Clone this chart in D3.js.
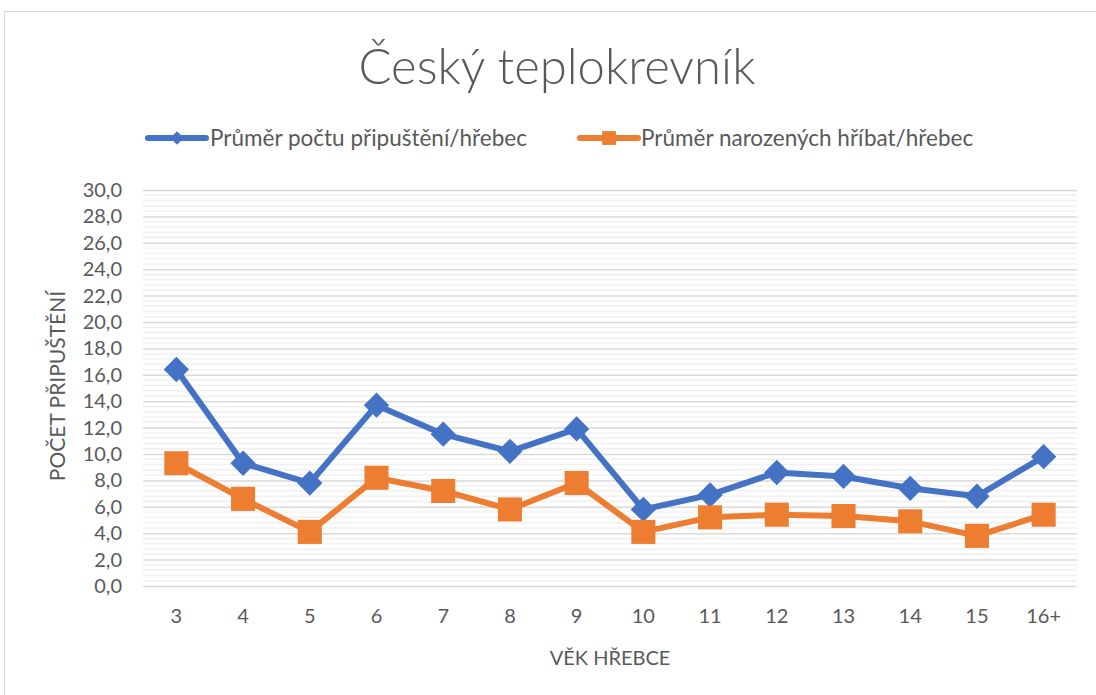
<!DOCTYPE html>
<html><head><meta charset="utf-8">
<script src="https://cdn.jsdelivr.net/npm/d3@7"></script>
<style>body{margin:0;background:#fff}svg{display:block}</style>
</head><body>
<svg id="c" width="1096" height="695"></svg>
<script>
const categories = ["3","4","5","6","7","8","9","10","11","12","13","14","15","16+"];
const seriesNames = ["Průměr počtu připuštění/hřebec","Průměr narozených hříbat/hřebec"];
const blueValues = [16.4,9.3,7.8,13.7,11.5,10.2,11.9,5.8,6.9,8.6,8.3,7.4,6.8,9.8];
const orangeValues = [9.3,6.6,4.1,8.2,7.2,5.8,7.8,4.1,5.2,5.4,5.3,4.9,3.8,5.4];
const yTicks = [0,2,4,6,8,10,12,14,16,18,20,22,24,26,28,30];
const title = "Český teplokrevník";
const xTitle = "VĚK HŘEBCE";
const yTitle = "POČET PŘIPUŠTĚNÍ";

const font = "Lato, 'Open Sans', sans-serif";
const svg = d3.select("#c");
svg.append("rect").attr("x",4.5).attr("y",11.5).attr("width",1110).attr("height",700)
  .attr("fill","#fff").attr("stroke","#d9d9d9").attr("stroke-width",1.2);

const L=143, R=1077, T=190, B=586;
const x = d3.scaleBand().domain(categories).range([L,R]);
const y = d3.scaleLinear().domain([0,30]).range([B,T]);

// minor grid
const minor = d3.range(0,30.001,0.4).filter(v=>Math.abs(v/2-Math.round(v/2))>1e-6);
svg.append("g").selectAll("line").data(minor).join("line")
  .attr("x1",L).attr("x2",R).attr("y1",d=>y(d)).attr("y2",d=>y(d))
  .attr("stroke","#f0f0f0").attr("stroke-width",1.5);
// major grid
svg.append("g").call(d3.axisLeft(y).tickValues(yTicks).tickSize(-(R-L)).tickFormat(""))
  .attr("transform",`translate(${L},0)`)
  .call(g=>g.select(".domain").remove())
  .call(g=>g.selectAll("line").attr("stroke","#d9d9d9").attr("stroke-width",1.5));

// y tick labels
const ya = svg.append("g").attr("transform",`translate(${L},0)`)
  .call(d3.axisLeft(y).tickValues(yTicks).tickSize(0).tickPadding(21)
    .tickFormat(d=>d3.format(".1f")(d).replace(".",",")));
ya.select(".domain").remove();
ya.selectAll("text").attr("font-family",font).attr("font-size",20).attr("fill","#595959");

// x labels
const xa = svg.append("g").attr("transform",`translate(0,${B})`)
  .call(d3.axisBottom(x).tickSize(0).tickPadding(23));
xa.select(".domain").remove();
xa.selectAll("text").attr("font-family",font).attr("font-size",20).attr("fill","#595959");

// titles
svg.append("text").attr("x",557).attr("y",84).attr("text-anchor","middle")
  .attr("font-family",font).attr("font-weight",300).attr("font-size",49).attr("fill","#595959").text(title);
svg.append("text").attr("x",610).attr("y",665).attr("text-anchor","middle")
  .attr("font-family",font).attr("font-size",20).attr("fill","#595959").text(xTitle);
svg.append("text").attr("transform","translate(65,386) rotate(-90)").attr("text-anchor","middle")
  .attr("font-family",font).attr("font-size",21).attr("fill","#595959").text(yTitle);

const series = [
  {vals:blueValues,color:"#4472c4",size:320,rot:45},
  {vals:orangeValues,color:"#ed7d31",size:580,rot:0}
];
const line = d3.line().x((d,i)=>x(categories[i])+x.bandwidth()/2).y(d=>y(d));
series.forEach(s=>{
  svg.append("path").datum(s.vals).attr("d",line).attr("fill","none")
    .attr("stroke",s.color).attr("stroke-width",6).attr("stroke-linejoin","round").attr("stroke-linecap","round");
  svg.append("g").selectAll("path").data(s.vals).join("path")
    .attr("transform",(d,i)=>`translate(${x(categories[i])+x.bandwidth()/2},${y(d)}) rotate(${s.rot})`)
    .attr("d",d3.symbol().type(d3.symbolSquare).size(s.size)).attr("fill",s.color);
});

// legend
const leg = [{x:148,tx:210,c:"#4472c4",size:90,rot:45},
             {x:580,tx:641,c:"#ed7d31",size:190,rot:0}];
leg.forEach((l,i)=>{
  svg.append("line").attr("x1",l.x).attr("x2",l.x+58).attr("y1",138).attr("y2",138)
    .attr("stroke",l.c).attr("stroke-width",6).attr("stroke-linecap","round");
  svg.append("path").attr("transform",`translate(${l.x+29},138) rotate(${l.rot})`)
    .attr("d",d3.symbol().type(d3.symbolSquare).size(l.size)).attr("fill",l.c);
  svg.append("text").attr("x",l.tx).attr("y",145.5).attr("font-family",font).attr("font-size",22.5)
    .attr("fill","#595959").text(seriesNames[i]);
});
</script>
</body></html>
